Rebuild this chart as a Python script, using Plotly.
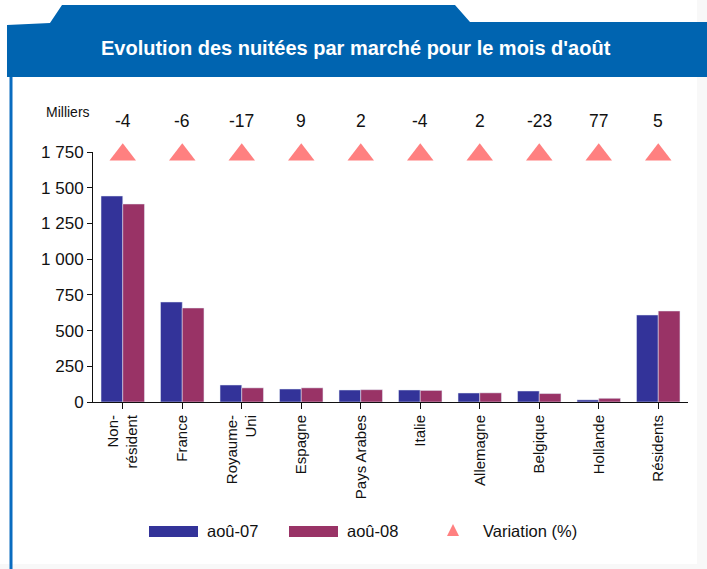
import plotly.graph_objects as go

categories = ["Non-<br>résident", "France", "Royaume-<br>Uni", "Espagne", "Pays Arabes",
              "Italie", "Allemagne", "Belgique", "Hollande", "Résidents"]
aout_07 = [1442, 700, 119, 91, 84, 84, 63, 77, 15, 609]
aout_08 = [1386, 658, 99, 99, 86, 81, 64, 59, 26, 637]
variation = [-4, -6, -17, 9, 2, -4, 2, -23, 77, 5]
marker_level = 1730
y_ticks = [0, 250, 500, 750, 1000, 1250, 1500, 1750]
y_ticktext = ["0", "250", "500", "750", "1 000", "1 250", "1 500", "1 750"]

W, H = 707, 569
L, R, T, B = 93, 688, 152, 402
FONT = "Liberation Sans, Arial, sans-serif"
BLUE_HDR = "#0064B0"
C07, C08, CTRI = "#333399", "#993366", "#FF8080"


def px(x):
    return (x - L) / (R - L)


def py(y):
    return (B - y) / (B - T)


def path(points):
    return "M " + " L ".join(f"{px(x):.5f},{py(y):.5f}" for x, y in points) + " Z"


xi = list(range(len(categories)))

fig = go.Figure()
fig.add_trace(go.Bar(x=xi, y=aout_07, name="aoû-07", marker_color=C07, showlegend=False))
fig.add_trace(go.Bar(x=xi, y=aout_08, name="aoû-08", marker_color=C08, showlegend=False))
fig.add_trace(go.Scatter(x=xi, y=[marker_level] * len(xi), mode="markers", name="Variation (%)",
                         marker=dict(symbol="triangle-up", size=23, color=CTRI),
                         cliponaxis=False, showlegend=False))

shapes = [
    # faint off-white edges
    dict(type="rect", xref="paper", yref="paper", x0=px(697), x1=px(707), y0=py(569), y1=py(0),
         fillcolor="#F8F8F8", line_width=0, layer="below"),
    dict(type="rect", xref="paper", yref="paper", x0=px(0), x1=px(707), y0=py(569), y1=py(564),
         fillcolor="#F8F8F8", line_width=0, layer="below"),
    # header
    dict(type="path", xref="paper", yref="paper",
         path=path([(7, 25), (50, 23), (62, 5), (455, 5), (470, 22), (707, 22), (707, 77), (7, 77)]),
         fillcolor=BLUE_HDR, line_width=0, layer="below"),
    # left border
    dict(type="rect", xref="paper", yref="paper", x0=px(9.5), x1=px(12.5), y0=py(569), y1=py(77),
         fillcolor="#0A6CC0", line_width=0, layer="below"),
    # custom legend
    dict(type="rect", xref="paper", yref="paper", x0=px(149), x1=px(198), y0=py(537), y1=py(526),
         fillcolor=C07, line_width=0),
    dict(type="rect", xref="paper", yref="paper", x0=px(289), x1=px(338), y0=py(537), y1=py(526),
         fillcolor=C08, line_width=0),
    dict(type="path", xref="paper", yref="paper",
         path=path([(447, 536), (459, 536), (453, 524)]), fillcolor=CTRI, line_width=0),
]

annotations = [
    dict(text="<b>Evolution des nuitées par marché pour le mois d'août</b>", xref="paper", yref="paper",
         x=px(356), y=py(48), xanchor="center", yanchor="middle", showarrow=False,
         font=dict(family=FONT, size=20, color="white")),
    dict(text="Milliers", xref="paper", yref="paper", x=px(44), y=py(112), xanchor="left",
         yanchor="middle", showarrow=False, font=dict(family=FONT, size=14, color="#111")),
    dict(text="aoû-07", xref="paper", yref="paper", x=px(205), y=py(531), xanchor="left",
         yanchor="middle", showarrow=False, font=dict(family=FONT, size=16.5, color="#111")),
    dict(text="aoû-08", xref="paper", yref="paper", x=px(345), y=py(531), xanchor="left",
         yanchor="middle", showarrow=False, font=dict(family=FONT, size=16.5, color="#111")),
    dict(text="Variation (%)", xref="paper", yref="paper", x=px(481), y=py(531), xanchor="left",
         yanchor="middle", showarrow=False, font=dict(family=FONT, size=16.5, color="#111")),
]
for i, v in enumerate(variation):
    annotations.append(dict(text=str(v), x=i, xref="x", yref="paper", y=py(121),
                            xanchor="center", yanchor="middle", showarrow=False,
                            font=dict(family=FONT, size=17.5, color="#111")))

fig.update_layout(
    width=W, height=H,
    margin=dict(l=L, r=W - R, t=T, b=H - B, pad=0),
    paper_bgcolor="white", plot_bgcolor="white",
    barmode="group", bargap=0.27, bargroupgap=0,
    showlegend=False,
    font=dict(family=FONT, color="#111"),
    shapes=shapes, annotations=annotations,
    xaxis=dict(range=[-0.5, 9.5], tickmode="array", tickvals=xi, ticktext=categories,
               tickangle=-90, tickson="boundaries", ticks="outside", ticklen=6, tickcolor="#111",
               showline=True, linecolor="#111", linewidth=1, showgrid=False, zeroline=False,
               tickfont=dict(family=FONT, size=15, color="#111"), fixedrange=True),
    yaxis=dict(range=[0, 1750], tickmode="array", tickvals=y_ticks, ticktext=y_ticktext,
               ticks="outside", ticklen=5, tickcolor="#111", showline=True, linecolor="#111",
               linewidth=1, showgrid=False, zeroline=False,
               tickfont=dict(family=FONT, size=17, color="#111"), fixedrange=True),
)

fig.write_html("out.html", config={"displayModeBar": False},
               post_script="document.body.style.margin='0';document.body.style.overflow='hidden';")
